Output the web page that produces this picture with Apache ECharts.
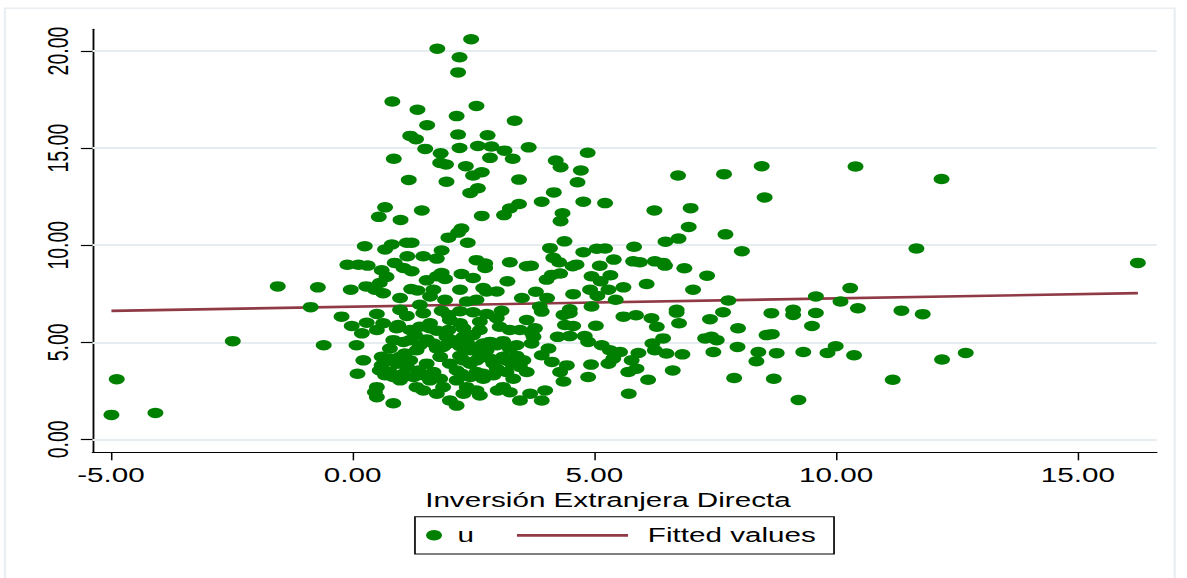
<!DOCTYPE html>
<html>
<head>
<meta charset="utf-8">
<script src="https://cdn.jsdelivr.net/npm/echarts@6/dist/echarts.min.js"></script>
<style>
  html, body { margin: 0; padding: 0; background: #fff; overflow: hidden; }
  /* the source graph is stretched sideways, so draw narrow and widen it */
  #chart { width: 781px; height: 578px; transform: scaleX(1.52); transform-origin: 0 0; }
</style>
</head>
<body>
<div id="chart"></div>
<script>
const xTicks = [-5, 0, 5, 10, 15];
const yTicks = [0, 5, 10, 15, 20];

// fitted values (two ends of the regression line)
const fitX = [-4.99, 16.24];
const fitY = [6.62, 7.53];

// u vs Inversión Extranjera Directa
const uPoints = [
  [-4.99,1.26],[-4.88,3.10],[-4.08,1.36],[-2.48,5.06],[-1.55,7.88],[-0.72,7.83],[-0.87,6.81],[-0.60,4.85],[-0.23,6.32],
  [2.45,20.61],[1.75,20.12],[2.21,19.68],[2.18,18.90],[0.82,17.40],[1.34,16.98],[2.56,17.17],[2.15,16.65],[3.35,16.41],
  [1.54,16.18],[1.19,15.63],[1.31,15.46],[2.18,15.70],[2.79,15.66],[1.50,14.96],[2.21,15.01],[2.59,15.11],[2.87,15.08],
  [3.14,14.87],[3.64,15.04],[1.82,14.73],[0.85,14.45],[2.84,14.50],[3.31,14.45],[1.81,14.24],[1.93,14.16],[2.34,14.07],
  [2.49,13.59],[2.67,13.76],[1.16,13.36],[1.94,13.27],[3.44,13.38],[2.43,12.69],[2.59,12.93],
  [0.67,11.95],[0.54,11.46],[0.99,11.30],[1.43,11.79],[2.67,11.51],[3.13,11.55],[3.25,11.89],[3.44,12.12],[2.25,10.86],
  [2.18,10.65],[1.98,10.39],[2.38,10.13],[0.25,9.95],[0.67,9.78],[0.81,10.04],[1.12,10.13],[1.22,10.13],[1.84,9.73],
  [1.46,9.43],[1.74,9.31],[1.13,9.43],[0.87,9.09],[1.05,8.83],[1.22,8.66],[-0.11,8.99],[0.12,8.99],[0.31,8.95],
  [0.60,8.71],[0.70,8.37],[0.56,8.05],[0.28,7.88],[-0.04,7.71],[0.46,7.71],[0.63,7.53],[0.98,7.28],[1.21,7.74],
  [1.34,7.67],[1.53,8.19],[1.74,8.40],[1.84,8.57],[1.91,8.26],[2.25,8.52],[2.49,8.31],[2.56,9.23],[2.74,9.06],
  [2.74,8.83],[3.25,9.12],[3.60,8.92],[3.20,8.14],[2.70,7.79],[2.77,7.62],[2.98,7.62],[2.22,7.71],[1.67,7.71],
  [1.60,7.36],[1.91,7.19],[2.36,7.10],[2.56,7.19],[3.50,7.28],[1.39,6.93],[0.50,6.46],[1.12,6.36],[1.46,6.50],
  [1.98,6.41],[2.77,6.46],
  [-0.02,5.84],[0.19,5.46],[0.29,6.01],[0.63,5.98],[0.94,5.89],[0.08,4.85],[0.22,4.07],[0.10,3.38],[0.60,4.25],
  [0.77,4.68],[0.60,3.81],[0.67,3.30],[0.50,2.69],[0.50,2.17],[0.84,1.86],[1.08,4.42],[1.05,5.02],[1.29,5.37],
  [1.60,5.72],[1.32,4.59],[1.12,3.73],[1.36,3.55],[0.84,3.21],[0.98,3.04],[1.32,2.69],[1.60,3.04],[1.67,4.94],
  [1.94,5.28],[1.81,4.25],[2.01,3.90],[2.15,3.55],[1.87,2.69],[2.01,2.00],[2.15,1.74],[2.36,2.69],[2.56,2.52],
  [2.29,5.28],[2.49,5.37],[2.43,4.59],[2.29,4.07],[2.63,4.25],[2.84,5.02],[2.77,4.59],[2.98,3.64],[2.70,3.38],
  [3.11,4.25],[3.29,3.90],[3.25,5.63],[3.39,4.85],[3.53,4.07],[3.11,2.69],[3.46,2.00],[3.60,6.15],[2.01,6.15],
  [1.60,5.98],[2.63,6.06],[2.98,6.24],[2.22,5.98],[1.87,4.76],[1.53,3.90],[0.91,3.90],[2.15,3.04],[2.43,3.21],
  [0.98,6.67],[1.84,6.62],[2.22,6.60],[2.49,6.55],[3.08,6.62],
  [0.50,5.63],[0.91,5.72],[1.19,5.63],[1.39,5.80],[1.74,5.60],[1.98,5.63],[2.29,5.72],[2.63,5.63],[3.04,5.80],
  [3.46,5.63],[3.70,5.50],
  [0.84,5.11],[1.19,5.11],[1.39,4.85],[1.53,5.15],[1.74,4.68],[1.98,4.94],[2.08,5.11],[2.22,4.80],[2.36,5.02],
  [2.56,4.76],[2.70,4.94],[2.98,4.85],[3.11,5.06],[3.25,4.68],
  [0.77,4.16],[0.98,4.25],[1.19,4.07],[2.22,4.30],[2.43,3.90],[2.56,4.07],[2.84,4.16],[2.91,3.90],[3.18,4.07],
  [3.39,4.30],[3.46,3.73],
  [0.56,3.55],[0.77,3.47],[1.05,3.38],[1.26,3.21],[1.46,3.30],[1.67,3.47],[1.81,3.12],[2.25,3.38],[2.56,3.47],
  [2.70,3.12],[2.91,3.30],[3.18,3.47],[3.32,3.12],
  [0.46,2.43],[1.46,2.52],[1.74,2.35],[2.29,2.35],[2.63,2.26],[3.00,2.52],[3.25,2.43],[3.67,2.35],
  [4.86,14.76],[4.20,14.36],[4.30,14.02],[4.72,13.85],[4.65,13.24],[4.16,12.72],[6.73,13.59],[3.91,12.24],[4.77,12.24],
  [5.22,12.17],[4.34,11.65],[4.30,11.24],[6.24,11.79],[6.99,11.91],[6.95,10.94],[6.74,10.34],[6.47,10.18],[4.38,10.20],
  [4.08,9.85],[5.82,9.92],[5.05,9.82],[5.22,9.83],[4.77,9.64],[4.15,9.35],[4.27,9.12],[3.69,8.94],[4.55,8.92],
  [4.63,9.00],[5.11,8.94],[5.40,9.26],[5.80,9.17],[5.94,9.12],[6.25,9.17],[6.42,9.09],[6.46,8.95],[6.86,8.81],
  [7.33,8.43],[7.04,7.71],[6.08,8.00],[5.60,7.83],[5.29,7.71],[5.33,8.45],[5.13,8.14],[4.94,8.40],[4.91,7.71],
  [5.06,7.39],[4.56,7.48],[4.29,8.54],[4.12,8.47],[4.01,8.23],[3.79,7.60],[4.02,7.28],[5.44,7.19],[4.94,6.84],
  [3.87,6.84],[4.49,6.70],[6.70,6.67],
  [3.91,6.58],[4.36,6.41],[4.49,6.50],[4.39,5.89],[4.56,5.84],[5.03,5.85],[5.60,6.32],[5.86,6.39],[6.18,6.24],
  [6.29,5.80],[6.70,6.53],[6.75,5.98],[7.39,6.19],[3.77,5.72],[3.74,5.28],[3.70,4.94],[4.24,5.28],[4.49,5.32],
  [4.80,5.32],[4.87,5.02],[5.15,4.85],[5.32,4.59],[5.53,4.50],[5.39,4.16],[5.29,3.90],[5.77,4.07],[5.91,4.45],
  [5.70,3.47],[5.87,3.64],[6.20,4.94],[6.25,4.59],[6.42,5.20],[6.49,4.42],[6.82,4.38],[6.62,3.55],[6.11,3.07],
  [5.71,2.35],[7.29,5.20],[7.42,5.28],[7.46,4.50],[7.53,5.11],[4.05,4.68],[3.91,4.33],[4.12,3.99],[4.43,3.81],
  [4.29,3.47],[4.36,2.98],[4.93,3.85],[4.87,3.21],[3.60,3.47],[3.98,2.52],[3.91,2.00],
  [7.68,13.66],[8.46,14.07],[10.40,14.05],[12.18,13.41],[8.52,12.46],[7.71,10.56],[8.05,9.69],[11.66,9.83],[10.29,7.79],
  [9.58,7.36],[7.77,7.15],[10.09,7.10],[10.45,6.75],[11.35,6.63],[11.79,6.45],[7.66,6.55],[8.66,6.50],[9.11,6.67],
  [9.11,6.41],[9.58,6.51],[9.50,5.84],[7.97,5.72],[8.56,5.37],[8.67,5.42],[7.96,4.76],[8.39,4.50],[8.35,4.02],
  [8.77,4.44],[9.32,4.50],[9.82,4.45],[9.99,4.80],[10.37,4.33],[12.19,4.11],[12.68,4.45],[7.89,3.16],[8.71,3.12],
  [11.17,3.07],[9.22,2.03],[16.24,9.09]
];

const green = '#008000';
const red = '#8f3a45';
const font = '"Liberation Sans", Arial, sans-serif';
const txt = { fontFamily: font, fontSize: 19.5, color: '#000' };

const chart = echarts.init(document.getElementById('chart'), null, { renderer: 'svg' });

chart.setOption({
  animation: false,
  backgroundColor: '#fff',
  grid: { left: 60.9, right: 20, top: 29.3, bottom: 126 },
  graphic: [
    {
      type: 'rect', silent: true,
      shape: { x: 3.3, y: 8.3, width: 769.5, height: 640 },
      style: { fill: 'none', stroke: '#e8eef1', lineWidth: 1.5 }
    },
    {
      type: 'rect', silent: true,
      shape: { x: 273, y: 516.7, width: 275.7, height: 37.3 },
      style: { fill: 'none', stroke: '#000', lineWidth: 1.1 }
    }
  ],
  legend: [
    {
      data: [{ name: 'u', icon: 'circle' }],
      left: 280.3, top: 525.3, padding: 0,
      itemWidth: 21, itemHeight: 10.5,
      textStyle: Object.assign({ lineHeight: 20 }, txt)
    },
    {
      data: [{ name: 'Fitted values', icon: 'rect' }],
      left: 340.1, top: 525.3, padding: 0,
      itemWidth: 73.1, itemHeight: 2.7,
      textStyle: Object.assign({ lineHeight: 20, padding: [0, 0, 0, 8] }, txt)
    }
  ],
  xAxis: {
    type: 'value',
    min: -5.38,
    max: 16.63,
    name: 'Inversión Extranjera Directa',
    nameLocation: 'middle',
    nameGap: 35,
    nameTextStyle: Object.assign({ padding: [0, 22, 0, 0] }, txt),
    axisLine: { onZero: false, lineStyle: { color: '#000', width: 1.2 } },
    axisTick: { length: 8.3, customValues: xTicks, lineStyle: { color: '#000', width: 1 } },
    axisLabel: Object.assign({
      customValues: xTicks,
      margin: 13,
      formatter: v => v.toFixed(2)
    }, txt),
    splitLine: { show: false }
  },
  yAxis: {
    type: 'value',
    min: -0.65,
    max: 21.12,
    axisLine: { onZero: false, lineStyle: { color: '#000', width: 1.2 } },
    axisTick: { length: 7.7, customValues: yTicks, lineStyle: { color: '#000', width: 1.2 } },
    axisLabel: Object.assign({
      customValues: yTicks,
      rotate: 90,
      margin: 13,
      formatter: v => v.toFixed(2)
    }, txt),
    splitLine: { show: false }
  },
  series: [
    {
      // horizontal grid lines, kept under the markers
      name: 'grid',
      type: 'line',
      data: [],
      silent: true,
      z: 1,
      markLine: {
        z: 1,
        silent: true,
        symbol: 'none',
        label: { show: false },
        lineStyle: { color: '#e6edf0', width: 2, type: 'solid' },
        data: yTicks.map(v => ({ yAxis: v }))
      }
    },
    {
      name: 'Fitted values',
      type: 'line',
      data: fitX.map((x, i) => [x, fitY[i]]),
      symbol: 'none',
      lineStyle: { color: red, width: 2.7 },
      itemStyle: { color: red },
      z: 2
    },
    {
      name: 'u',
      type: 'scatter',
      data: uPoints,
      symbol: 'circle',
      symbolSize: 10.5,
      itemStyle: { color: green, opacity: 1 },
      z: 3
    }
  ]
});
</script>
</body>
</html>
